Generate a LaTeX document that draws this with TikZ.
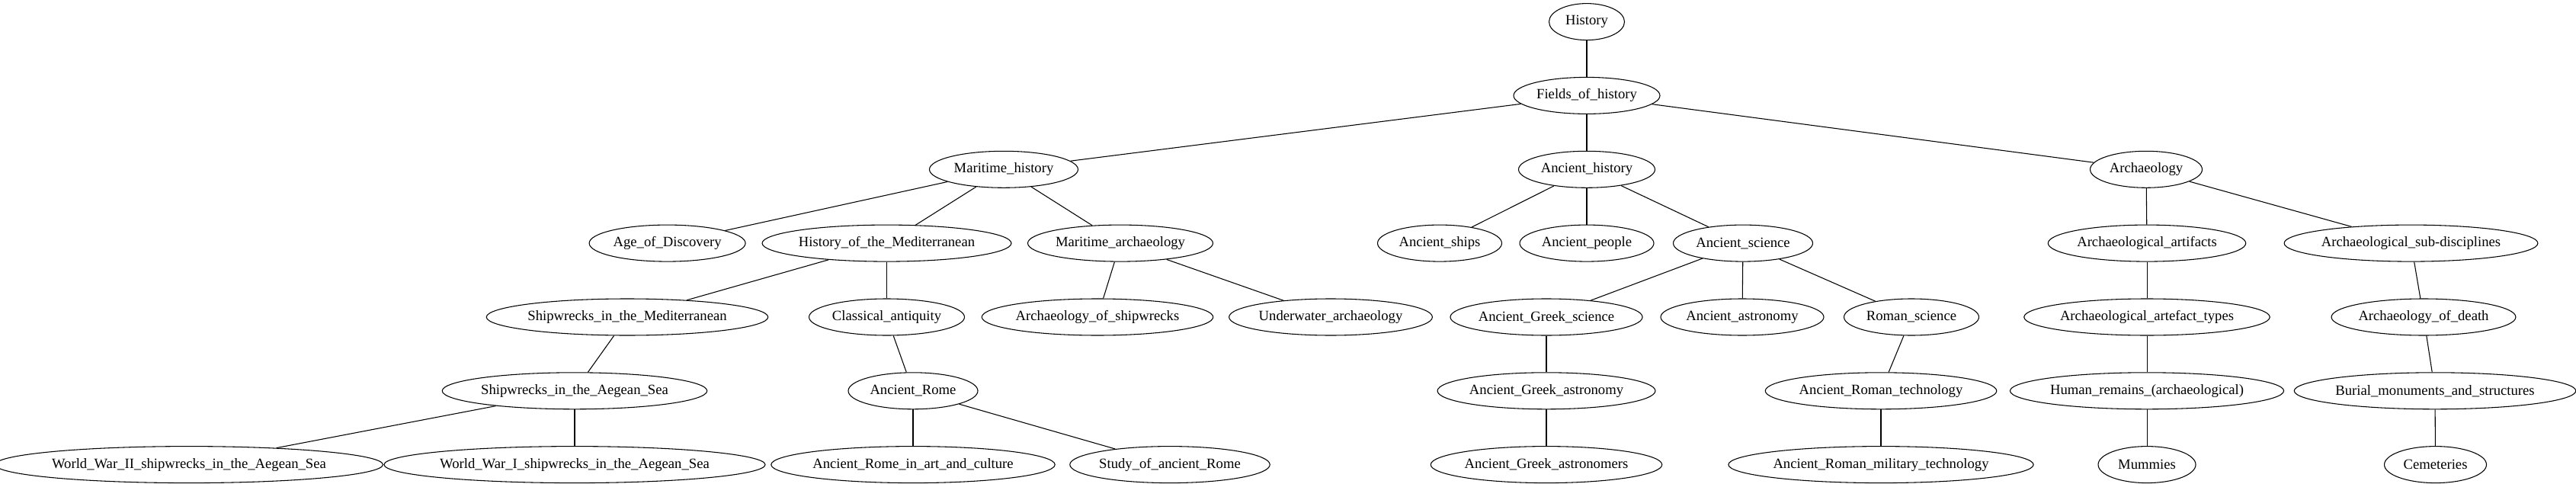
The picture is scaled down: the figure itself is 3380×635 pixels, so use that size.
\documentclass[tikz,border=0pt]{standalone}
\usepackage{fontspec}
\setmainfont{Liberation Serif}
\usetikzlibrary{shapes.geometric}
\begin{document}
\begin{tikzpicture}[x=0.75pt,y=-0.75pt,
  nd/.style={draw,ellipse,inner sep=0pt,minimum height=36pt,minimum width=#1*0.75pt,font=\fontsize{14}{16}\selectfont,line width=0.8pt},
  ed/.style={draw,line width=0.8pt}]
\useasboundingbox (0,0) rectangle (3380,635);
\def\ra{28.6}\def\rb{125.4}\def\rc{222.3}\def\rd{319.1}\def\re{416}\def\rf{512.8}\def\rg{609.6}
% row 1-2
\node[nd=99] (hist) at (2082,\ra) {History};
\node[nd=192] (fields) at (2082,\rb) {Fields\_of\_history};
% row 3
\node[nd=195] (marh) at (1317,\rc) {Maritime\_history};
\node[nd=179] (anch) at (2082,\rc) {Ancient\_history};
\node[nd=147] (arch) at (2816,\rc) {Archaeology};
% row 4
\node[nd=205] (age) at (875.6,\rd) {Age\_of\_Discovery};
\node[nd=319] (hmed) at (1163.5,\rd) {History\_of\_the\_Mediterranean};
\node[nd=243] (mara) at (1470,\rd) {Maritime\_archaeology};
\node[nd=163] (ships) at (1889,\rd) {Ancient\_ships};
\node[nd=176] (people) at (2082,\rd) {Ancient\_people};
\node[nd=183] (asci) at (2287,\rd) {Ancient\_science};
\node[nd=256] (aart) at (2817,\rd) {Archaeological\_artifacts};
\node[nd=324] (asub) at (3163.5,\rd) {Archaeological\_sub-disciplines};
% row 5
\node[nd=355] (swmed) at (823,\re) {Shipwrecks\_in\_the\_Mediterranean};
\node[nd=204] (clas) at (1163.5,\re) {Classical\_antiquity};
\node[nd=295] (aship) at (1440,\re) {Archaeology\_of\_shipwrecks};
\node[nd=264] (uwa) at (1746,\re) {Underwater\_archaeology};
\node[nd=252] (agsci) at (2029,\re) {Ancient\_Greek\_science};
\node[nd=214] (aast) at (2286,\re) {Ancient\_astronomy};
\node[nd=177] (rsci) at (2508,\re) {Roman\_science};
\node[nd=314] (atypes) at (2817,\re) {Archaeological\_artefact\_types};
\node[nd=241] (adeath) at (3180,\re) {Archaeology\_of\_death};
% row 6
\node[nd=336] (swaeg) at (754,\rf) {Shipwrecks\_in\_the\_Aegean\_Sea};
\node[nd=170] (rome) at (1198,\rf) {Ancient\_Rome};
\node[nd=285] (agast) at (2029,\rf) {Ancient\_Greek\_astronomy};
\node[nd=299] (artech) at (2468,\rf) {Ancient\_Roman\_technology};
\node[nd=349] (human) at (2817,\rf) {Human\_remains\_(archaeological)};
\node[nd=358] (burial) at (3195,\rf) {Burial\_monuments\_and\_structures};
% row 7
\node[nd=486] (ww2) at (248,\rg) {World\_War\_II\_shipwrecks\_in\_the\_Aegean\_Sea};
\node[nd=478] (ww1) at (754,\rg) {World\_War\_I\_shipwrecks\_in\_the\_Aegean\_Sea};
\node[nd=360] (romeart) at (1198,\rg) {Ancient\_Rome\_in\_art\_and\_culture};
\node[nd=262] (study) at (1535,\rg) {Study\_of\_ancient\_Rome};
\node[nd=299] (agastr) at (2029,\rg) {Ancient\_Greek\_astronomers};
\node[nd=386] (armil) at (2468,\rg) {Ancient\_Roman\_military\_technology};
\node[nd=128] (mumm) at (2817,\rg) {Mummies};
\node[nd=134] (cem) at (3195.5,\rg) {Cemeteries};
% edges
\draw[ed] (hist) -- (fields);
\draw[ed] (fields) -- (marh);
\draw[ed] (fields) -- (anch);
\draw[ed] (fields) -- (arch);
\draw[ed] (marh) -- (age);
\draw[ed] (marh) -- (hmed);
\draw[ed] (marh) -- (mara);
\draw[ed] (hmed) -- (swmed);
\draw[ed] (hmed) -- (clas);
\draw[ed] (mara) -- (aship);
\draw[ed] (mara) -- (uwa);
\draw[ed] (swmed) -- (swaeg);
\draw[ed] (swaeg) -- (ww2);
\draw[ed] (swaeg) -- (ww1);
\draw[ed] (clas) -- (rome);
\draw[ed] (rome) -- (romeart);
\draw[ed] (rome) -- (study);
\draw[ed] (anch) -- (ships);
\draw[ed] (anch) -- (people);
\draw[ed] (anch) -- (asci);
\draw[ed] (asci) -- (agsci);
\draw[ed] (asci) -- (aast);
\draw[ed] (asci) -- (rsci);
\draw[ed] (agsci) -- (agast);
\draw[ed] (agast) -- (agastr);
\draw[ed] (rsci) -- (artech);
\draw[ed] (artech) -- (armil);
\draw[ed] (arch) -- (aart);
\draw[ed] (arch) -- (asub);
\draw[ed] (aart) -- (atypes);
\draw[ed] (atypes) -- (human);
\draw[ed] (human) -- (mumm);
\draw[ed] (asub) -- (adeath);
\draw[ed] (adeath) -- (burial);
\draw[ed] (burial) -- (cem);
\end{tikzpicture}
\end{document}
